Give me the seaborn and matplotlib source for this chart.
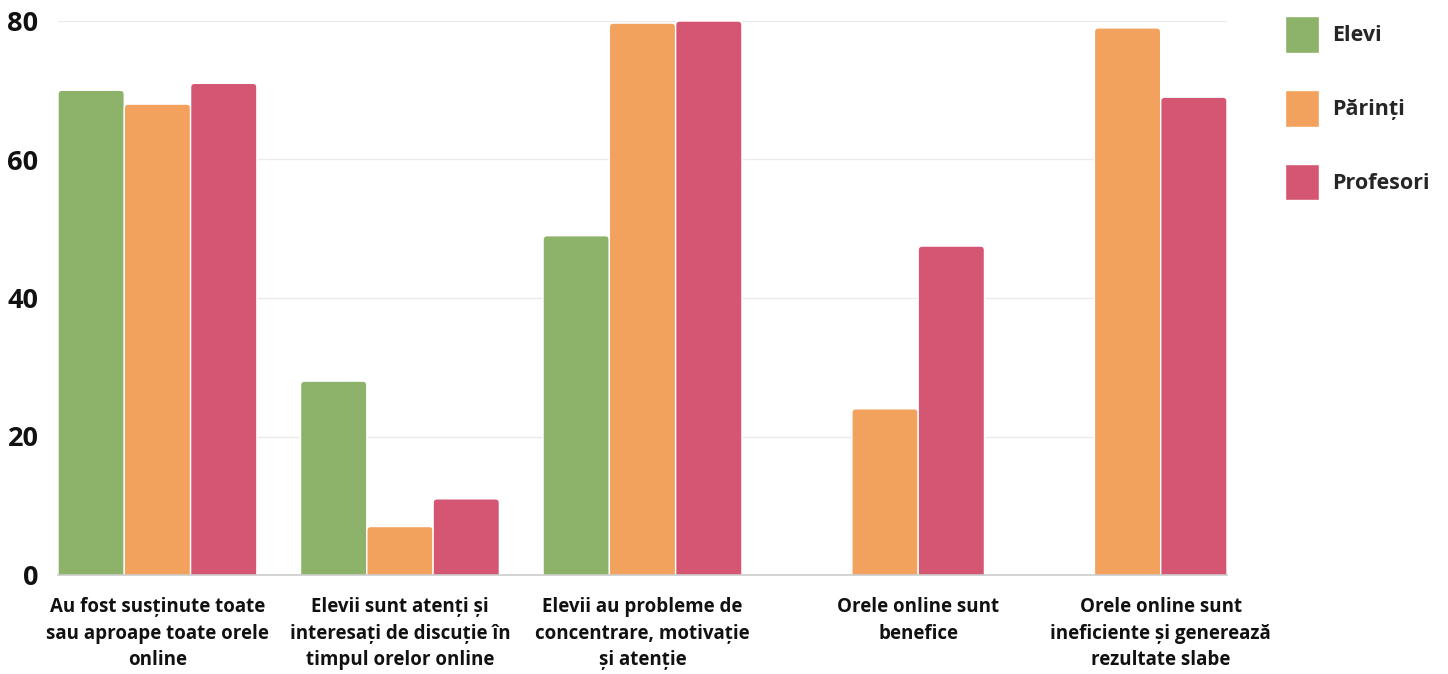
import matplotlib
matplotlib.use("Agg")
import matplotlib.pyplot as plt
import seaborn as sns
import pandas as pd
import numpy as np
from matplotlib.patches import Patch, FancyBboxPatch

categories = [
    "Au fost susținute toate\nsau aproape toate orele\nonline",
    "Elevii sunt atenți și\ninteresați de discuție în\ntimpul orelor online",
    "Elevii au probleme de\nconcentrare, motivație\nși atenție",
    "Orele online sunt\nbenefice",
    "Orele online sunt\nineficiente și generează\nrezultate slabe",
]
series = ["Elevi", "Părinți", "Profesori"]
elevi = [70, 28, 49, np.nan, np.nan]
parinti = [68, 7, 79.7, 24, 79]
profesori = [71, 11, 80, 47.5, 69]
colors = ["#8db36b", "#f2a25c", "#d55673"]
yticks = [0, 20, 40, 60, 80]

rows = []
for s, vals in zip(series, [elevi, parinti, profesori]):
    for c, v in zip(categories, vals):
        if not np.isnan(v):
            rows.append({"cat": c, "group": s, "value": v})
df = pd.DataFrame(rows)

sns.set_theme(style="white")
plt.rcParams["font.family"] = ["Open Sans", "DejaVu Sans"]
plt.rcParams["font.weight"] = "bold"

fig = plt.figure(figsize=(14.48, 6.74), dpi=100)
ax = fig.add_axes([58/1448, 99/674, (1227-58)/1448, (575-21)/674])

group_width = 0.82
sns.barplot(data=df, x="cat", y="value", hue="group", order=categories,
            hue_order=series, palette=colors, width=group_width, saturation=1,
            edgecolor="white", linewidth=1, ax=ax, legend=False, zorder=3)

ax.set_xlim(-0.41, 4.41)
ax.set_ylim(0, 80)

# round the top corners of the bars
rx = 4 / 242.5
ry = 4 / 6.925
for p in list(ax.patches):
    h = p.get_height()
    if not np.isfinite(h) or h <= 0:
        continue
    x, w = p.get_x(), p.get_width()
    fb = FancyBboxPatch((x, -ry), w, h + ry,
                        boxstyle=f"round,pad=0,rounding_size={rx}",
                        mutation_aspect=ry / rx,
                        facecolor=p.get_facecolor(), edgecolor="white",
                        linewidth=1, zorder=3)
    p.remove()
    ax.add_patch(fb)

# labels centred over the bars that are present
bw = group_width / 3
tick_pos = [i + (bw / 2 if np.isnan(e) else 0) for i, e in enumerate(elevi)]
ax.set_xticks(tick_pos)
ax.set_xticklabels(categories)

ax.set_yticks(yticks)
ax.set_yticklabels([str(t) for t in yticks], fontsize=19.5, fontweight="bold", color="#111111")
ax.tick_params(axis="y", length=0, pad=14)
ax.tick_params(axis="x", length=0, pad=16)
for lbl in ax.get_xticklabels():
    lbl.set_fontsize(13.5)
    lbl.set_fontweight("bold")
    lbl.set_color("#111111")
    lbl.set_linespacing(1.42)
    lbl.set_va("top")
ax.set_xlabel("")
ax.set_ylabel("")
ax.grid(axis="y", color="#ebebeb", linewidth=1, zorder=0)
for s in ["top", "right", "left"]:
    ax.spines[s].set_visible(False)
ax.spines["bottom"].set_color("#cccccc")
ax.spines["bottom"].set_linewidth(1.2)
ax.spines["bottom"].set_zorder(4)

handles = [Patch(facecolor=c, edgecolor="white", label=s) for c, s in zip(colors, series)]
leg = fig.legend(handles=handles, loc="upper left", bbox_to_anchor=(1285/1448, 1 - 16/674),
                 frameon=False, prop={"family": "Open Sans", "weight": "bold", "size": 15.5},
                 handlelength=1.6, handleheight=2.25, labelspacing=1.72,
                 handletextpad=0.6, borderaxespad=0, borderpad=0)

fig.savefig("out.png", dpi=100)
